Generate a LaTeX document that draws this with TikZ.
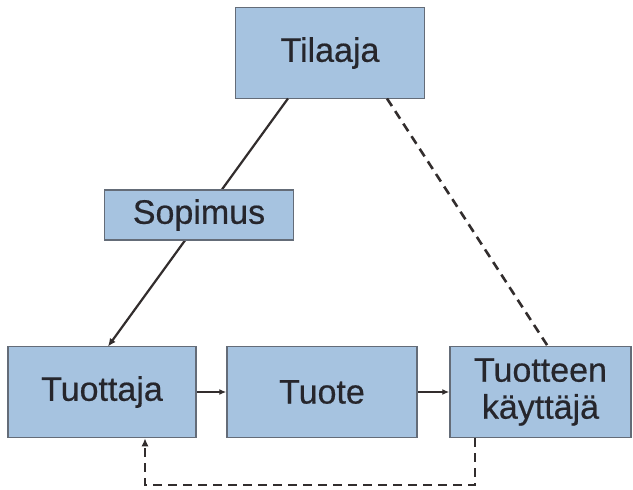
\documentclass[tikz,border=0pt]{standalone}
\usepackage{fontspec}
\setmainfont{Liberation Sans}
\newfontfamily\boxfont{Liberation Sans}[FakeBold=0.5]
\usetikzlibrary{arrows.meta}
\definecolor{boxfill}{RGB}{166,195,224}
\definecolor{boxline}{RGB}{100,108,120}
\definecolor{inkgray}{RGB}{38,38,44}
\definecolor{wire}{RGB}{50,45,45}
\begin{document}
\begin{tikzpicture}[x=1pt,y=-1pt,
  blk/.style={draw=boxline,line width=1.5pt,fill=boxfill,text=inkgray,
    font=\boxfont\fontsize{34}{37}\selectfont,align=center,inner sep=0pt},
  link/.style={draw=wire,line width=2.2pt},
  bigtip/.style={-{Latex[length=8pt,width=7pt]}},
  smalltip/.style={-{Latex[length=7pt,width=6pt]}},
  dashline/.style={line width=2.6pt,dash pattern=on 9pt off 6pt}]
  \useasboundingbox (0,0) rectangle (633,490);
  \fill[white] (0,0) rectangle (633,490);
  % nodes
  \node[blk,minimum width=189pt,minimum height=91pt] (tilaaja) at (330,53) {Tilaaja};
  \node[blk,minimum width=188pt,minimum height=91pt] (tuottaja) at (102,392) {Tuottaja};
  \node[blk,minimum width=190pt,minimum height=91pt] (tuote) at (322,392) {Tuote};
  \node[blk,minimum width=181pt,minimum height=91pt] (kayttaja) at (540.5,392) {Tuotteen\\käyttäjä};
  % endpoints on box edges
  \coordinate (a1) at (288,98.5);
  \coordinate (b1) at (108,346.5);
  \coordinate (a2) at (387,98.5);
  \coordinate (b2) at (548,346.5);
  % contract line runs through the Sopimus box
  \draw[link,bigtip] (a1) -- (b1);
  \node[blk,minimum width=189pt,minimum height=50pt] (sopimus) at (199,215) {Sopimus};
  \draw[link,dashline] (a2) -- (b2);
  \draw[link,line width=1.3pt,smalltip] (tuottaja.east) -- (tuote.west);
  \draw[link,line width=1.3pt,smalltip] (tuote.east) -- (kayttaja.west);
  \coordinate (l1) at (475,485);
  \coordinate (l2) at (145,485);
  \draw[link,dashline,bigtip] (kayttaja.south -| l1) -- (l1) -- (l2) -- (tuottaja.south -| l2);
\end{tikzpicture}
\end{document}
